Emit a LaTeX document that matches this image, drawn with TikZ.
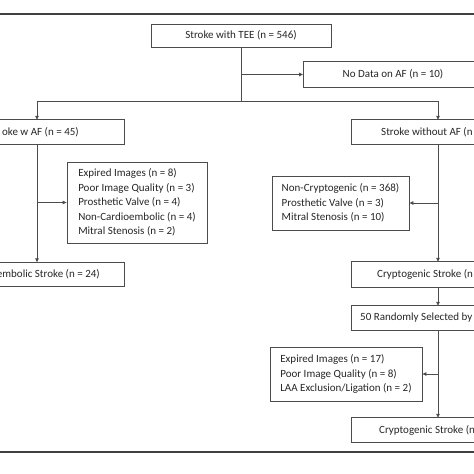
\documentclass[tikz,border=0pt]{standalone}
\usepackage{fontspec}
\setmainfont{Carlito}
\usetikzlibrary{arrows.meta}

\begin{document}
\begin{tikzpicture}[x=1pt,y=-1pt,
  box/.style={draw=black!70,line width=0.8pt,minimum width=180pt,minimum height=23pt,
    inner sep=0pt,font=\fontsize{11}{13}\selectfont,text=black!85},
  cut/.style={minimum height=24pt,inner sep=0pt,font=\fontsize{11}{13}\selectfont,text=black!85},
  list/.style={draw=black!70,line width=0.8pt,align=left,inner xsep=7pt,inner ysep=5pt,
    font=\fontsize{11}{14.5}\selectfont,text=black!85},
  conn/.style={draw=black!70,line width=0.8pt},
  arr/.style={conn,-{Triangle[length=4pt,width=3.5pt]}}]

\useasboundingbox (0,0) rectangle (474,474);

% rules and picture edges
\draw[black!75,line width=1.3pt] (0,14)--(474,14);
\draw[black!75,line width=1.3pt] (0,452)--(474,452);
\coordinate (W) at (0,0);
\coordinate (E) at (474,0);
\coordinate (L) at (37,0);
\coordinate (Lin) at (124,0);
\coordinate (R) at (438,0);
\coordinate (Rin) at (351,0);
\coordinate (Nin) at (303,0);

\node[box] (tee) at (241,35.5) {Stroke with TEE (n = 546)};
\node[cut,minimum height=25pt] (nodata) at (393,74.5) {No Data on AF (n = 10)};

\node[cut,anchor=east] (withAF) at (79,132)   {oke w AF (n = 45)};
\node[cut,anchor=east] (cardio) at (100,274.5) {embolic Stroke (n = 24)};
\node[cut,anchor=west] (noAF)   at (381,132)  {Stroke without AF (n};
\node[cut,anchor=west,minimum height=25pt] (crypto) at (377,274.5) {Cryptogenic Stroke (n};
\node[cut,anchor=west] (random) at (360,318)  {50 Randomly Selected by};
\node[cut,anchor=west] (final)  at (379,430)  {Cryptogenic Stroke (n};

\node[list,minimum width=140pt,minimum height=81pt] (exclA) at (137,202.5)
  {Expired Images (n = 8)\\Poor Image Quality (n = 3)\\Prosthetic Valve (n = 4)\\
   Non-Cardioembolic (n = 4)\\Mitral Stenosis (n = 2)};
\node[list,minimum width=137pt,minimum height=54pt] (exclB) at (340.5,203)
  {Non-Cryptogenic (n = 368)\\Prosthetic Valve (n = 3)\\Mitral Stenosis (n = 10)};
\node[list,minimum width=152pt,minimum height=54pt] (exclC) at (346,374)
  {Expired Images (n = 17)\\Poor Image Quality (n = 8)\\LAA Exclusion/Ligation (n = 2)};

% boxes cut by the picture edge
\draw[conn] (E |- nodata.north) -| (Nin |- nodata.south) -- (E |- nodata.south);
\draw[conn] (W |- withAF.north) -| (Lin |- withAF.south) -- (W |- withAF.south);
\draw[conn] (W |- cardio.north) -| (Lin |- cardio.south) -- (W |- cardio.south);
\draw[conn] (E |- noAF.north) -| (Rin |- noAF.south) -- (E |- noAF.south);
\draw[conn] (E |- crypto.north) -| (Rin |- crypto.south) -- (E |- crypto.south);
\draw[conn] (E |- random.north) -| (Rin |- random.south) -- (E |- random.south);
\draw[conn] (E |- final.north) -| (Rin |- final.south) -- (E |- final.south);

% main stem
\coordinate (fork) at (241,101);
\draw[conn] (tee) -- (fork);
\draw[arr] (tee.south |- nodata.west) -- (Nin |- nodata.west);
\draw[arr] (fork) -| (L |- withAF.north);
\draw[arr] (fork) -| (R |- noAF.north);

% left branch
\draw[arr] (L |- withAF.south) -- (L |- cardio.north);
\draw[arr] (L |- exclA.west) -- (exclA.west);

% right branch
\draw[arr] (R |- noAF.south) -- (R |- crypto.north);
\draw[arr] (R |- exclB.east) -- (exclB.east);
\draw[arr] (R |- crypto.south) -- (R |- random.north);
\draw[arr] (R |- random.south) -- (R |- final.north);
\draw[arr] (R |- exclC.east) -- (exclC.east);

\end{tikzpicture}
\end{document}
